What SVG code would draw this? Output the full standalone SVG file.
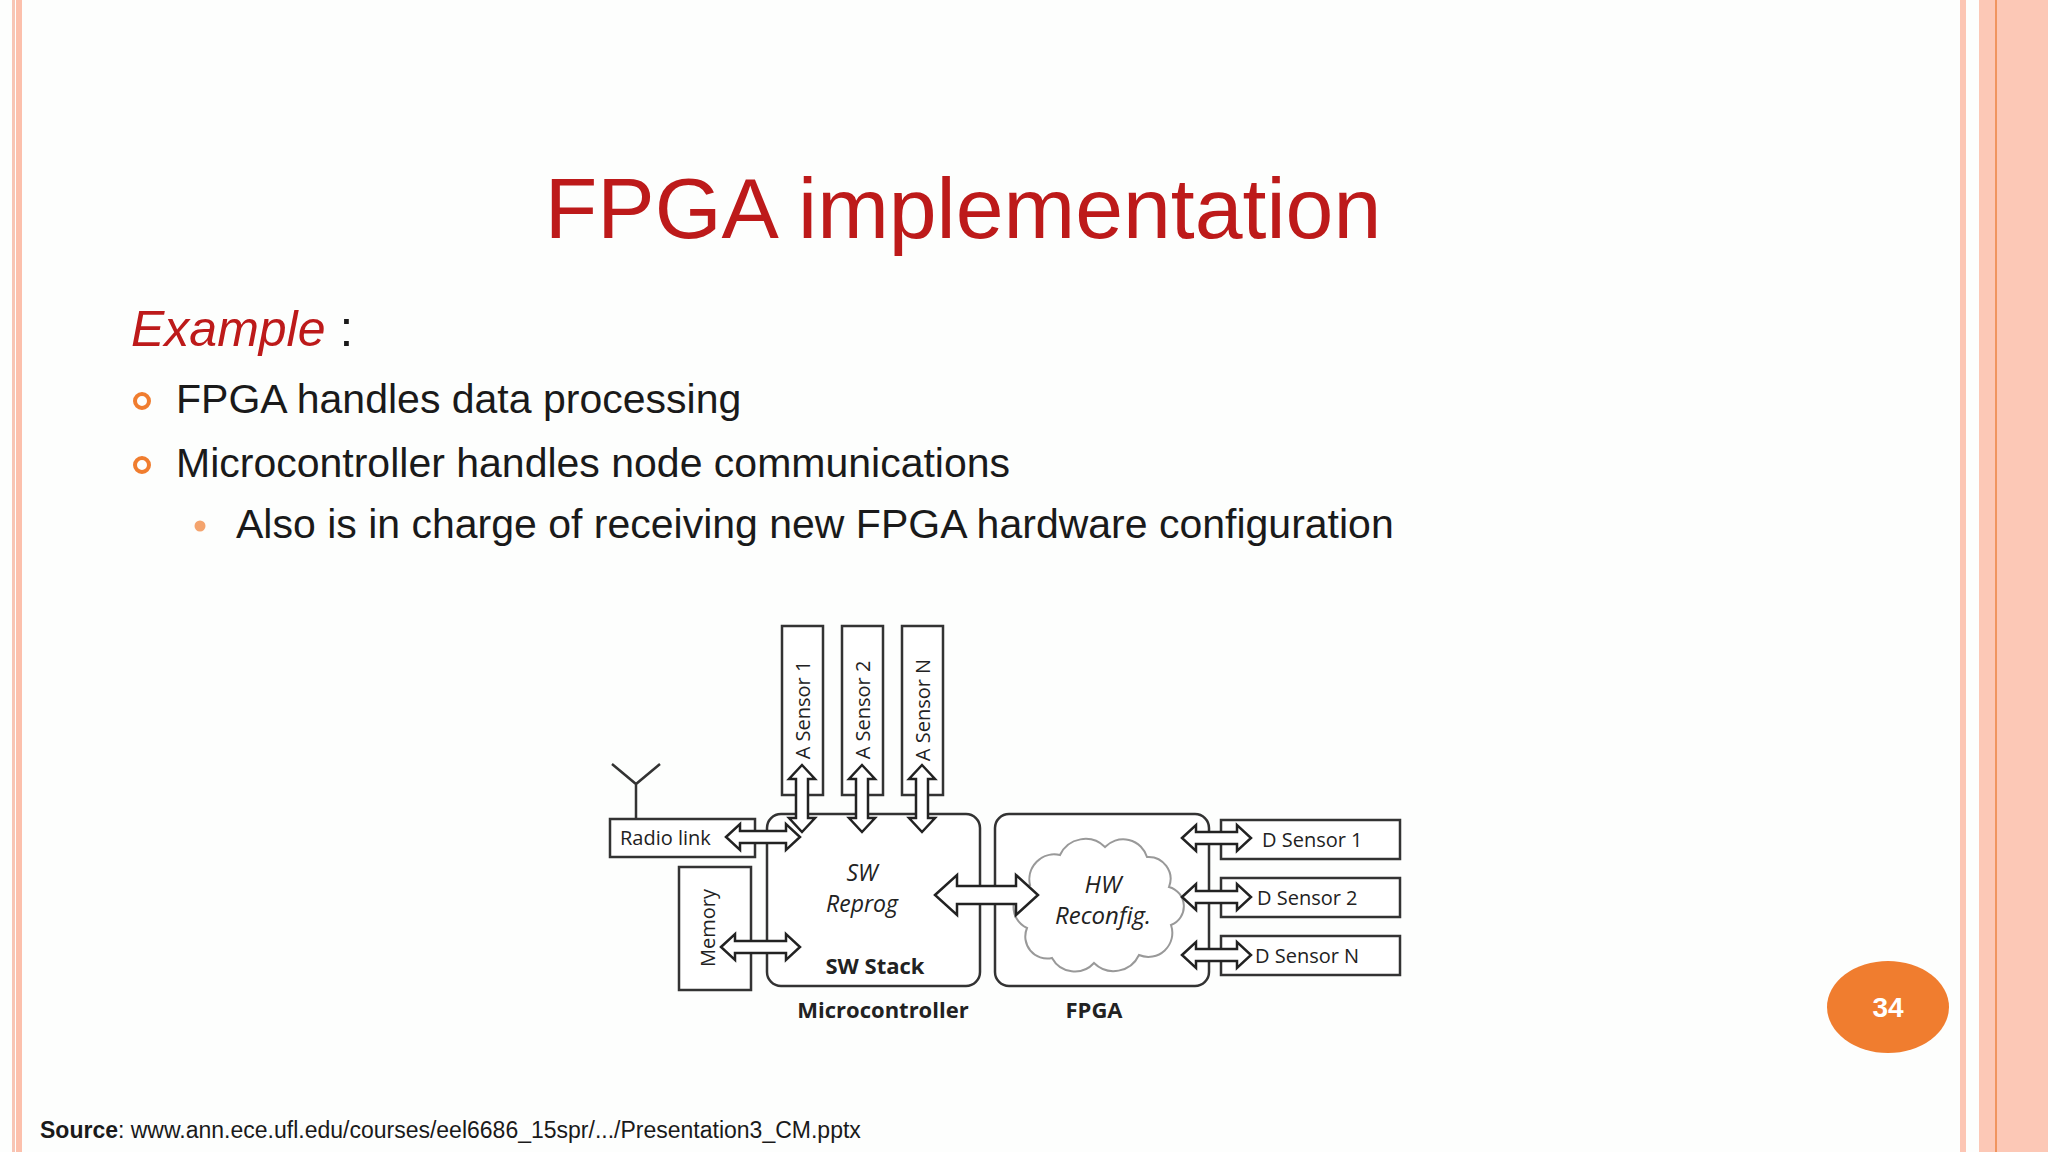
<svg xmlns="http://www.w3.org/2000/svg" width="2048" height="1152" viewBox="0 0 2048 1152">
<style>
.t{font-family:"Liberation Sans",Arial,sans-serif;fill:#1a1a1a}
.d{font-family:"Open Sans","Liberation Sans",sans-serif;fill:#222;font-size:20px}
.bx{fill:#fff;stroke:#333;stroke-width:2.5}
.ar{fill:#fff;stroke:#222;stroke-width:2.5;stroke-linejoin:miter}
</style>
<rect width="2048" height="1152" fill="#fdfefd"/>
<rect x="12" y="0" width="3" height="1152" fill="#f7c5b5"/>
<rect x="16" y="0" width="6" height="1152" fill="#fcc0ac"/>
<rect x="1960" y="0" width="6" height="1152" fill="#fcc6b4"/>
<rect x="1979" y="0" width="69" height="1152" fill="#fcc8b6"/>
<rect x="1995" y="0" width="2" height="1152" fill="#f0955f"/>
<text x="963" y="238" text-anchor="middle" class="t" style="fill:#bd1a1a;font-size:86px">FPGA implementation</text>
<text x="131" y="346" class="t" style="font-size:50px"><tspan style="fill:#bd1a1a;font-style:italic">Example</tspan> :</text>
<circle cx="142" cy="401" r="7" fill="none" stroke="#f07d2f" stroke-width="4"/>
<text x="176" y="413" class="t" style="font-size:41px">FPGA handles data processing</text>
<circle cx="142" cy="465" r="7" fill="none" stroke="#f07d2f" stroke-width="4"/>
<text x="176" y="477" class="t" style="font-size:41px">Microcontroller handles node communications</text>
<circle cx="200" cy="526" r="5.5" fill="#f4a46e"/>
<text x="236" y="538" class="t" style="font-size:41px">Also is in charge of receiving new FPGA hardware configuration</text>
<g id="antenna"><path d="M612,764 L636,784 L660,764 M636,784 V819" fill="none" stroke="#333" stroke-width="2.5"/></g>
<g id="asensor1"><rect class="bx" x="782" y="626" width="41" height="169"/><text class="d" transform="translate(810,710) rotate(-90)" text-anchor="middle">A Sensor 1</text></g>
<g id="asensor2"><rect class="bx" x="842" y="626" width="41" height="169"/><text class="d" transform="translate(870,710) rotate(-90)" text-anchor="middle">A Sensor 2</text></g>
<g id="asensorN"><rect class="bx" x="902" y="626" width="41" height="169"/><text class="d" transform="translate(930,710) rotate(-90)" text-anchor="middle">A Sensor N</text></g>
<g id="radio"><rect class="bx" x="610" y="819" width="145" height="38"/><text class="d" x="620" y="845">Radio link</text></g>
<g id="memory"><rect class="bx" x="679" y="867" width="72" height="123"/><text class="d" transform="translate(715,928) rotate(-90)" text-anchor="middle">Memory</text></g>
<g id="micro"><rect class="bx" x="767" y="814" width="213" height="172" rx="14"/>
<text class="d" x="862" y="881" text-anchor="middle" style="font-style:italic;font-size:23px">SW</text>
<text class="d" x="862" y="912" text-anchor="middle" style="font-style:italic;font-size:23px">Reprog</text>
<text class="d" x="875" y="974" text-anchor="middle" style="font-weight:bold;font-size:22px">SW Stack</text>
<text class="d" x="883" y="1018" text-anchor="middle" style="font-weight:bold;font-size:22px">Microcontroller</text></g>
<g id="fpga"><rect class="bx" x="995" y="814" width="214" height="172" rx="14"/>
<path d="M1030,885 a25,25 0 0 1 30,-30 a28,28 0 0 1 45,-8 a25,25 0 0 1 42,10 a22,22 0 0 1 22,30 a20,20 0 0 1 2,38 a24,24 0 0 1 -32,30 a28,28 0 0 1 -45,8 a26,26 0 0 1 -42,-5 a22,22 0 0 1 -25,-30 a23,23 0 0 1 3,-43 z" fill="#fff" stroke="#999" stroke-width="2"/>
<text class="d" x="1103" y="893" text-anchor="middle" style="font-style:italic;font-size:24px">HW</text>
<text class="d" x="1103" y="924" text-anchor="middle" style="font-style:italic;font-size:24px">Reconfig.</text>
<text class="d" x="1094" y="1018" text-anchor="middle" style="font-weight:bold;font-size:22px">FPGA</text></g>
<g id="dsensor1"><rect class="bx" x="1221" y="820" width="179" height="39"/><text class="d" x="1262" y="847">D Sensor 1</text></g>
<g id="dsensor2"><rect class="bx" x="1221" y="878" width="179" height="39"/><text class="d" x="1257" y="905">D Sensor 2</text></g>
<g id="dsensorN"><rect class="bx" x="1221" y="936" width="179" height="39"/><text class="d" x="1255" y="963">D Sensor N</text></g>
<g id="connectors">
<polygon class="ar" points="726,837 740,824 740,831 786,831 786,824 800,837 786,850 786,843 740,843 740,850"/>
<polygon class="ar" points="721,947 735,934 735,941 786,941 786,934 800,947 786,960 786,953 735,953 735,960"/>
<polygon class="ar" points="935,895 957,875 957,886 1016,886 1016,875 1038,895 1016,915 1016,904 957,904 957,915"/>
<polygon class="ar" points="1182,838 1196,825 1196,832 1237,832 1237,825 1251,838 1237,851 1237,844 1196,844 1196,851"/>
<polygon class="ar" points="1182,897 1196,884 1196,891 1237,891 1237,884 1251,897 1237,910 1237,903 1196,903 1196,910"/>
<polygon class="ar" points="1182,955 1196,942 1196,949 1237,949 1237,942 1251,955 1237,968 1237,961 1196,961 1196,968"/>
<polygon class="ar" points="802,765 815,779 808,779 808,818 815,818 802,832 789,818 796,818 796,779 789,779"/>
<polygon class="ar" points="862,765 875,779 868,779 868,818 875,818 862,832 849,818 856,818 856,779 849,779"/>
<polygon class="ar" points="922,765 935,779 928,779 928,818 935,818 922,832 909,818 916,818 916,779 909,779"/>
</g>
<ellipse cx="1888" cy="1007" rx="61" ry="46" fill="#f07d2f"/>
<text x="1888" y="1017" text-anchor="middle" class="t" style="fill:#fff;font-weight:bold;font-size:28px">34</text>
<text x="40" y="1138" class="t" style="font-size:23px"><tspan font-weight="bold">Source</tspan>: www.ann.ece.ufl.edu/courses/eel6686_15spr/.../Presentation3_CM.pptx</text>
</svg>
